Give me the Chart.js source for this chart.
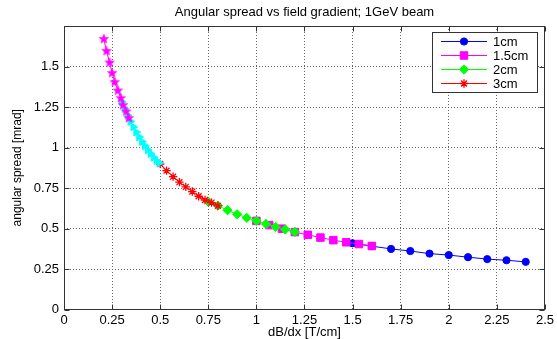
<!DOCTYPE html>
<html>
<head>
<meta charset="utf-8">
<script src="https://cdn.jsdelivr.net/npm/chart.js@4"></script>
<style>
html,body{margin:0;padding:0;background:#fff;}
#wrap{width:557px;height:339px;position:relative;}
</style>
</head>
<body>
<div id="wrap"><canvas id="c" width="557" height="339"></canvas></div>
<script>
// ---- data ----
const chartTitle = "Angular spread vs field gradient; 1GeV beam";
const xAxisTitle = "dB/dx [T/cm]";
const yAxisTitle = "angular spread [mrad]";
const seriesLabels = ["1cm", "1.5cm", "2cm", "3cm", "4cm", "5cm"];
const legendCount = 4;

const x1cm = [1.5, 1.6, 1.7, 1.8, 1.9, 2.0, 2.1, 2.2, 2.3, 2.4];
const y1cm = [0.409, 0.391, 0.374, 0.361, 0.345, 0.336, 0.323, 0.311, 0.304, 0.294];

const x15cm = [1.0, 1.067, 1.133, 1.2, 1.267, 1.333, 1.4, 1.467, 1.533, 1.6];
const y15cm = [0.547, 0.521, 0.499, 0.478, 0.461, 0.444, 0.428, 0.415, 0.404, 0.392];

const x2cm = [0.75, 0.8, 0.85, 0.9, 0.95, 1.0, 1.05, 1.1, 1.15, 1.2];
const y2cm = [0.666, 0.641, 0.613, 0.588, 0.566, 0.547, 0.528, 0.510, 0.494, 0.479];

const x3cm = [0.5, 0.533, 0.567, 0.6, 0.633, 0.667, 0.7, 0.733, 0.767, 0.8];
const y3cm = [0.898, 0.857, 0.820, 0.786, 0.757, 0.728, 0.699, 0.676, 0.660, 0.640];

const x4cm = [0.3, 0.315, 0.33, 0.345, 0.36, 0.375, 0.39, 0.405, 0.42, 0.435, 0.45, 0.465, 0.48, 0.495];
const y4cm = [1.282, 1.239, 1.198, 1.161, 1.127, 1.095, 1.065, 1.036, 1.010, 0.985, 0.962, 0.940, 0.919, 0.905];

const x5cm = [0.207, 0.221, 0.237, 0.25, 0.264, 0.28, 0.295, 0.307, 0.323, 0.337];
const y5cm = [1.669, 1.595, 1.524, 1.459, 1.403, 1.351, 1.304, 1.261, 1.222, 1.181];

const xTickStep = 0.25, xMin = 0, xMax = 2.5;
const yTickStep = 0.25, yMin = 0, yMax = 1.75;
const yLastLabel = 1.5;

// ---- styles ----
const FONT = "'Liberation Sans', Arial, sans-serif";

function pentagram(color, rOut, rIn) {
  const s = Math.ceil(rOut * 2 + 2);
  const cv = document.createElement('canvas');
  cv.width = s; cv.height = s;
  const g = cv.getContext('2d');
  g.beginPath();
  for (let i = 0; i < 10; i++) {
    const r = i % 2 === 0 ? rOut : rIn;
    const a = -Math.PI / 2 + i * Math.PI / 5;
    const px = s / 2 + r * Math.cos(a), py = s / 2 + r * Math.sin(a);
    if (i === 0) g.moveTo(px, py); else g.lineTo(px, py);
  }
  g.closePath();
  g.fillStyle = color; g.fill();
  g.strokeStyle = color; g.lineWidth = 0.6; g.stroke();
  return cv;
}
const starImg = pentagram('#ff00ff', 5, 2.1);

function pts(xs, ys) { return xs.map((x, i) => ({x: x, y: ys[i]})); }
function fmt(v) { return String(+(+v).toFixed(2)); }

const styles = [
  {color: '#0000ff', pointStyle: 'circle', radius: 3.6, rotation: 0},
  {color: '#ff00ff', pointStyle: 'rect', radius: 5.3, rotation: 0},
  {color: '#00ff00', pointStyle: 'rectRot', radius: 4.6, rotation: 0},
  {color: '#ff0000', pointStyle: 'star', radius: 4.2, rotation: 0},
  {color: '#00ffff', pointStyle: 'triangle', radius: 4.5, rotation: 90},
  {color: '#ff00ff', pointStyle: starImg, radius: 5, rotation: 0}
];
const seriesX = [x1cm, x15cm, x2cm, x3cm, x4cm, x5cm];
const seriesY = [y1cm, y15cm, y2cm, y3cm, y4cm, y5cm];

const datasets = seriesLabels.map((lab, i) => ({
  label: lab,
  data: pts(seriesX[i], seriesY[i]),
  showLine: true,
  borderColor: styles[i].color,
  backgroundColor: styles[i].color,
  borderWidth: 1,
  pointStyle: styles[i].pointStyle,
  pointRadius: styles[i].radius,
  pointRotation: styles[i].rotation,
  pointBackgroundColor: styles[i].color,
  pointBorderColor: styles[i].color,
  pointBorderWidth: styles[i].pointStyle === 'star' ? 1.3 : 1,
  order: seriesLabels.length - i
}));

const deco = {
  id: 'deco',
  beforeDatasetsDraw(chart) {
    const {ctx, chartArea: a} = chart;
    const L = Math.round(a.left) + 0.5, R = Math.round(a.right) - 0.5;
    const T = Math.round(a.top) + 0.5, B = Math.round(a.bottom) - 0.5;
    ctx.save();
    ctx.strokeStyle = '#333';
    ctx.lineWidth = 1;
    ctx.beginPath();
    const tl = 5;
    chart.scales.x.ticks.forEach(t => {
      const p = Math.round(chart.scales.x.getPixelForValue(t.value)) + 0.5;
      ctx.moveTo(p, B); ctx.lineTo(p, B - tl);
      ctx.moveTo(p, T); ctx.lineTo(p, T + tl);
    });
    chart.scales.y.ticks.forEach(t => {
      const p = Math.round(chart.scales.y.getPixelForValue(t.value)) + 0.5;
      ctx.moveTo(L, p); ctx.lineTo(L + tl, p);
      ctx.moveTo(R, p); ctx.lineTo(R - tl, p);
    });
    ctx.stroke();
    ctx.strokeRect(L, T, R - L, B - T);
    ctx.restore();
  },
  afterDraw(chart) {
    const {ctx, chartArea: a} = chart;
    ctx.save();
    ctx.fillStyle = '#000';
    ctx.textAlign = 'center';
    ctx.textBaseline = 'middle';
    ctx.font = '13px ' + FONT;
    ctx.fillText(chartTitle, (a.left + a.right) / 2, 12);
    ctx.fillText(xAxisTitle, (a.left + a.right) / 2, 332);
    ctx.save();
    ctx.translate(18, (a.top + a.bottom) / 2);
    ctx.rotate(-Math.PI / 2);
    ctx.font = '12px ' + FONT;
    ctx.fillText(yAxisTitle, 0, 0);
    ctx.restore();

    // legend
    const bx = 432.5, by = 32.5, bw = 105, bh = 60;
    ctx.fillStyle = '#fff';
    ctx.fillRect(bx, by, bw, bh);
    ctx.strokeStyle = '#333';
    ctx.lineWidth = 1;
    ctx.strokeRect(bx, by, bw, bh);
    const rowY = [41.5, 55.5, 69.5, 83.5];
    for (let i = 0; i < legendCount; i++) {
      const ds = chart.data.datasets[i];
      const yy = rowY[i];
      ctx.strokeStyle = ds.borderColor;
      ctx.lineWidth = 1;
      ctx.beginPath();
      ctx.moveTo(441, yy); ctx.lineTo(487, yy);
      ctx.stroke();
      const opt = {
        pointStyle: ds.pointStyle, radius: ds.pointRadius, rotation: ds.pointRotation,
        borderWidth: ds.pointBorderWidth
      };
      ctx.fillStyle = ds.pointBackgroundColor;
      ctx.strokeStyle = ds.pointBorderColor;
      ctx.lineWidth = ds.pointBorderWidth;
      if (Chart.helpers && Chart.helpers.drawPoint) {
        Chart.helpers.drawPoint(ctx, opt, 464, yy);
      } else {
        ctx.beginPath(); ctx.arc(464, yy, 3.5, 0, Math.PI * 2); ctx.fill();
      }
      ctx.fillStyle = '#000';
      ctx.textAlign = 'left';
      ctx.font = '13px ' + FONT;
      ctx.fillText(ds.label, 493, yy + 0.5);
    }
    ctx.restore();
  }
};

new Chart(document.getElementById('c'), {
  type: 'scatter',
  data: {datasets: datasets},
  options: {
    responsive: false,
    animation: false,
    devicePixelRatio: 1,
    layout: {padding: {top: 26, right: 9.5, left: 0, bottom: 0}},
    plugins: {legend: {display: false}, tooltip: {enabled: false}, title: {display: false}},
    scales: {
      x: {
        type: 'linear', min: xMin, max: xMax,
        afterFit(s) { s.height = 29.5; },
        ticks: {stepSize: xTickStep, color: '#000', padding: 3, maxRotation: 0, autoSkip: false,
                font: {family: FONT, size: 13},
                callback: (v) => fmt(v)},
        grid: {color: '#666', lineWidth: 1, drawTicks: false},
        border: {display: false, dash: [1, 2]}
      },
      y: {
        type: 'linear', min: yMin, max: yMax,
        afterFit(s) { s.width = 64; },
        ticks: {stepSize: yTickStep, color: '#000', padding: 5, autoSkip: false,
                font: {family: FONT, size: 13},
                callback: (v) => (v > yLastLabel + 1e-9 ? '' : fmt(v))},
        grid: {color: '#666', lineWidth: 1, drawTicks: false},
        border: {display: false, dash: [1, 2]}
      }
    }
  },
  plugins: [deco]
});
</script>
</body>
</html>
